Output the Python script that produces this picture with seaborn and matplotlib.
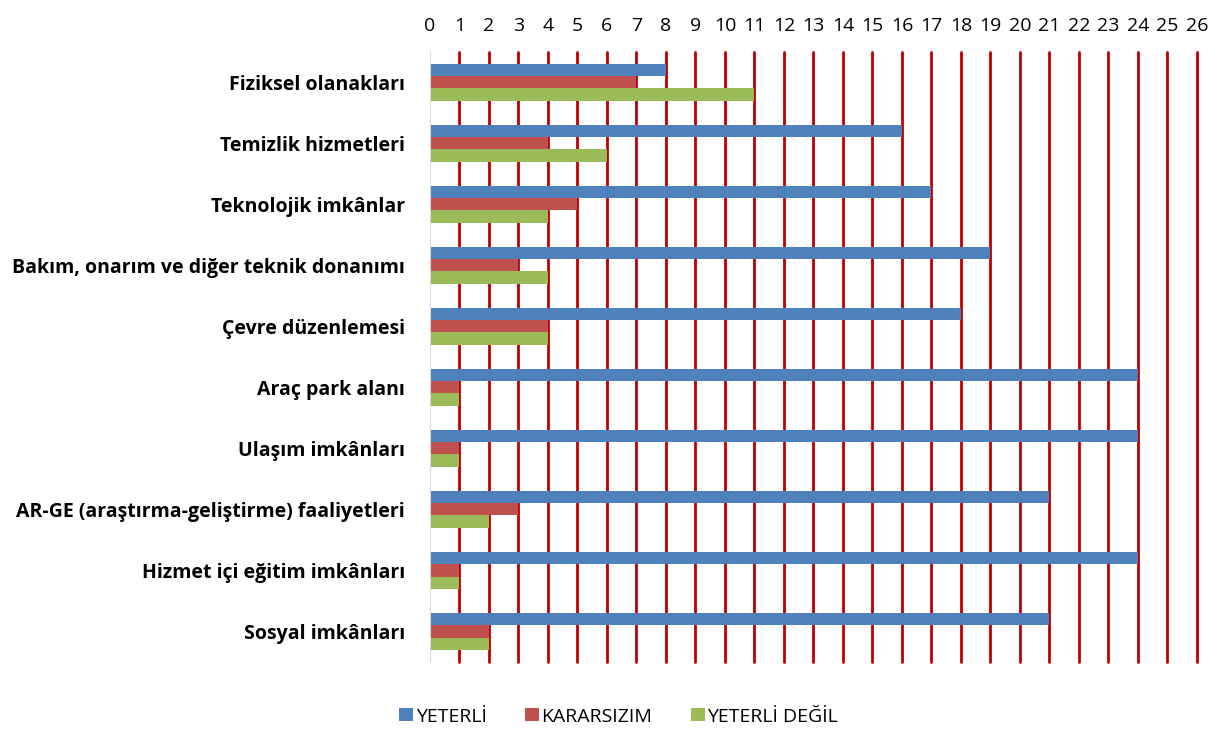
import numpy as np
import pandas as pd
import matplotlib
matplotlib.use("Agg")
import matplotlib.pyplot as plt
import seaborn as sns

categories = ["Fiziksel olanakları", "Temizlik hizmetleri", "Teknolojik imkânlar",
              "Bakım, onarım ve diğer teknik donanımı", "Çevre düzenlemesi",
              "Araç park alanı", "Ulaşım imkânları",
              "AR-GE (araştırma-geliştirme) faaliyetleri",
              "Hizmet içi eğitim imkânları", "Sosyal imkânları"]
series = ["YETERLİ", "KARARSIZIM", "YETERLİ DEĞİL"]
yeterli = [8, 16, 17, 19, 18, 24, 24, 21, 24, 21]
kararsizim = [7, 4, 5, 3, 4, 1, 1, 3, 1, 2]
yeterli_degil = [11, 6, 4, 4, 4, 1, 1, 2, 1, 2]
colors = ["#4F81BD", "#C0504D", "#9BBB59"]

df = pd.DataFrame({
    "kategori": categories * 3,
    "seri": [series[0]] * 10 + [series[1]] * 10 + [series[2]] * 10,
    "deger": yeterli + kararsizim + yeterli_degil,
})

sns.set_style("white")
plt.rcParams["font.family"] = ["Open Sans", "DejaVu Sans"]
plt.rcParams["text.color"] = "black"
plt.rcParams["xtick.color"] = "black"
plt.rcParams["ytick.color"] = "black"

fig = plt.figure(figsize=(12.23, 7.29), dpi=100)
ax = fig.add_axes([0.3516, 0.092, 0.627, 0.837])

sns.barplot(data=df, x="deger", y="kategori", hue="seri", orient="h",
            palette=colors, width=0.6, saturation=1, ax=ax, zorder=3,
            edgecolor="none", linewidth=0)

ax.set_xlim(0, 26)
ax.set_xticks(range(0, 27))
ax.xaxis.tick_top()
ax.tick_params(axis="x", length=0, labelsize=14, pad=12, labelcolor="black")
ax.tick_params(axis="y", length=0, labelsize=14, pad=18, labelcolor="black")
for lbl in ax.get_yticklabels():
    lbl.set_fontweight("bold")
ax.set_xlabel("")
ax.set_ylabel("")
for x in range(1, 27):
    ax.axvline(x, color="#C00000", lw=2, zorder=1, clip_on=False)
ax.axvline(0, color="#D9D9D9", lw=1.5, zorder=4)
for s in ax.spines.values():
    s.set_visible(False)

handles, labels = ax.get_legend_handles_labels()
ax.get_legend().remove()
fig.legend(handles, labels, loc="center", bbox_to_anchor=(0.506, 0.017),
           ncol=3, frameon=False, fontsize=14, handlelength=0.68, handleheight=0.68,
           columnspacing=2.0, handletextpad=0.15)

fig.savefig("out.png", dpi=100)
